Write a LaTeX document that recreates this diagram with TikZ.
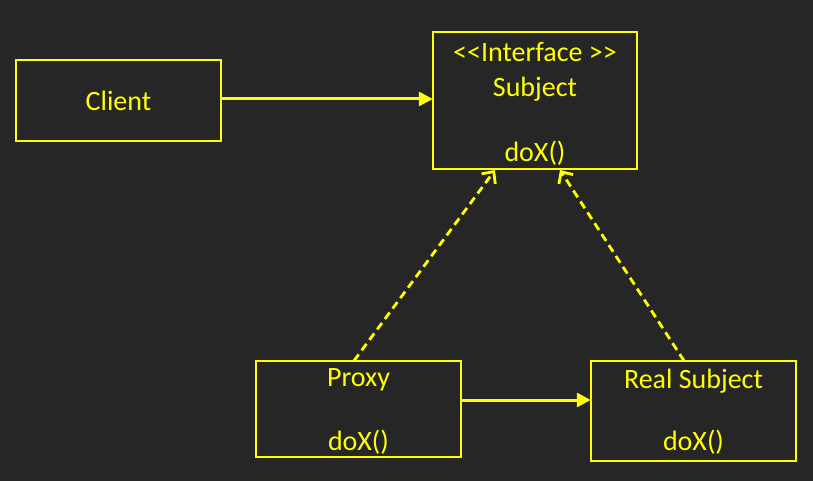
\documentclass[tikz,border=0pt]{standalone}
\usepackage{fontspec}
\setmainfont[Ligatures=NoCommon]{Carlito}
\usetikzlibrary{arrows.meta}
\definecolor{bg}{HTML}{262626}
\definecolor{yel}{HTML}{FFFF00}
\begin{document}
\begin{tikzpicture}[x=1pt,y=-1pt,
  box/.style={draw=yel,line width=2pt},
  lbl/.style={text=yel,font=\fontsize{28}{32}\selectfont,inner sep=0pt,anchor=center},
  solidarrow/.style={draw=yel,line width=3pt,-{Triangle[length=14pt,width=14pt]}},
  dasharrow/.style={draw=yel,line width=2.8pt,dash pattern=on 8pt off 5pt,-{Straight Barb[length=9pt,width=17pt,line width=2.8pt]}}]
\fill[bg] (0,0) rectangle (813,481);
\useasboundingbox (0,0) rectangle (813,481);
\draw[box] (16,60) rectangle (221,141);
\node[draw=none,minimum width=205pt,minimum height=81pt,inner sep=0pt] (client) at (118.5,100.5) {};
\node[lbl] at (118.5,101) {Client};
\draw[box] (433,32) rectangle (637,169);
\node[draw=none,minimum width=204pt,minimum height=137pt,inner sep=0pt] (subject) at (535,100.5) {};
\node[lbl] at (535,52) {{<}{<}Interface {>}{>}};
\node[lbl] at (535,89) {Subject};
\node[lbl] at (535,153) {doX()};
\draw[box] (256,361) rectangle (461,457);
\node[draw=none,minimum width=205pt,minimum height=96pt,inner sep=0pt] (proxy) at (358.5,409) {};
\node[lbl] at (358.5,380) {Proxy};
\node[lbl] at (358.5,442) {doX()};
\draw[box] (591,361) rectangle (796,461);
\node[draw=none,minimum width=205pt,minimum height=100pt,inner sep=0pt] (real) at (693.5,411) {};
\node[lbl] at (693.5,381) {Real Subject};
\node[lbl] at (693.5,442) {doX()};
\coordinate (s1) at (495,170);
\coordinate (s2) at (560,170);
\draw[solidarrow] (client.east |- 0,99) -- (subject.west |- 0,99);
\draw[solidarrow] (proxy.east |- 0,400) -- (real.west |- 0,400);
\draw[dasharrow] (proxy.north -| 354,0) -- (s1);
\draw[dasharrow] (real.north -| 684,0) -- (s2);
\end{tikzpicture}
\end{document}
